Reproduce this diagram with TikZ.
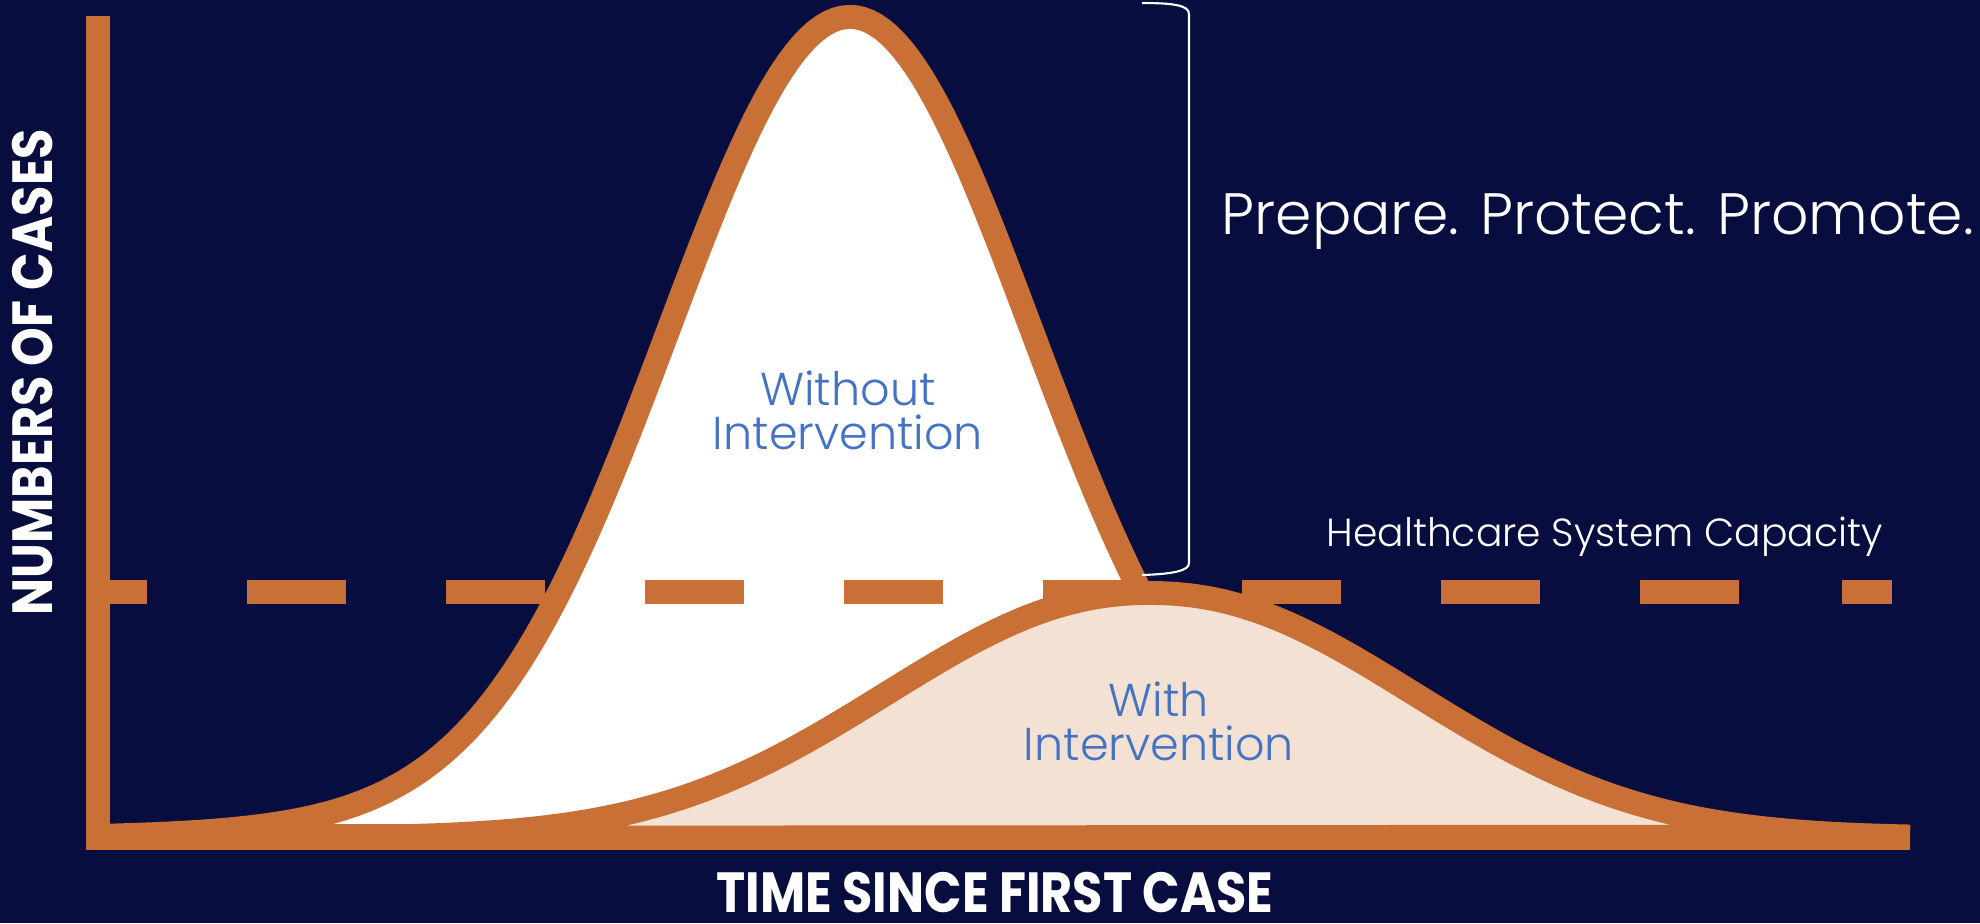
\documentclass[tikz,border=0pt]{standalone}
\usepackage{fontspec}
\setmainfont{Poppins}
\newfontfamily\thinfont{Poppins Light}
\newfontfamily\axisfont{Poppins}[FakeStretch=0.87]
\definecolor{navy}{HTML}{080D3F}
\definecolor{rust}{HTML}{C87035}
\definecolor{peach}{HTML}{F3E1D4}
\definecolor{labelblue}{HTML}{4472C4}
\tikzset{
  curve/.style={draw=rust, line width=6.8pt},
  axis/.style={draw=rust, line width=6.6pt},
  curvelabel/.style={text=labelblue, align=center, inner sep=0pt,
    font=\thinfont\fontsize{13.1}{12.5}\selectfont},
  axislabel/.style={text=white, inner sep=0pt,
    font=\axisfont\bfseries\fontsize{16.1}{18}\selectfont},
}
\begin{document}
\begin{tikzpicture}[x=0.01cm, y=-0.01cm]
\useasboundingbox (0,0) rectangle (1980,923);
\fill[navy] (0,0) rectangle (1980,923);
% Curves
\filldraw[curve, fill=white] plot[domain=98:1700, samples=240]
  (\x, {838-821*(0.88*exp(-0.5*((\x-850)/178)^2)+0.12*exp(-0.5*((\x-850)/270)^2))}) -- cycle;
\filldraw[curve, fill=peach] plot[domain=98:1910, samples=240]
  (\x, {838-245*exp(-0.5*((abs(\x-1150)+0.01)/257)^2.14)}) -- cycle;
% Axes
\draw[axis] (98,16) -- (98,838) -- (1910,838);
% Capacity line
\fill[rust] (110,580) rectangle (147,604);
\foreach \x in {247,446,...,1640} {
    \fill[rust] (\x,580) rectangle ++(99,24);
}
\fill[rust] (1842,580) rectangle (1892,604);
% Bracket
\draw[white, line width=0.6pt] (1142,3) .. controls (1172,3) and (1189,5) .. (1189,14)
  -- (1189,563) .. controls (1189,571) and (1172,574) .. (1142,575);
% Labels
\node[anchor=base west, inner sep=0pt, text=white,
  font=\thinfont\fontsize{16.6}{20}\selectfont] (motto) at (1221,234) {Prepare. Protect. Promote.};
\node[anchor=base west, inner sep=0pt, text=white,
  font=\thinfont\fontsize{11.15}{14}\selectfont] (capacity) at (1326,546) {Healthcare System Capacity};
\node[curvelabel] (without) at (848,410) {Without\\Intervention};
\node[curvelabel] (with) at (1159,721) {With\\Intervention};
\node[axislabel, rotate=90] (ylabel) at (33,372) {NUMBERS OF CASES};
\node[axislabel] (xlabel) at (995,893) {TIME SINCE FIRST CASE};
\end{tikzpicture}
\end{document}
